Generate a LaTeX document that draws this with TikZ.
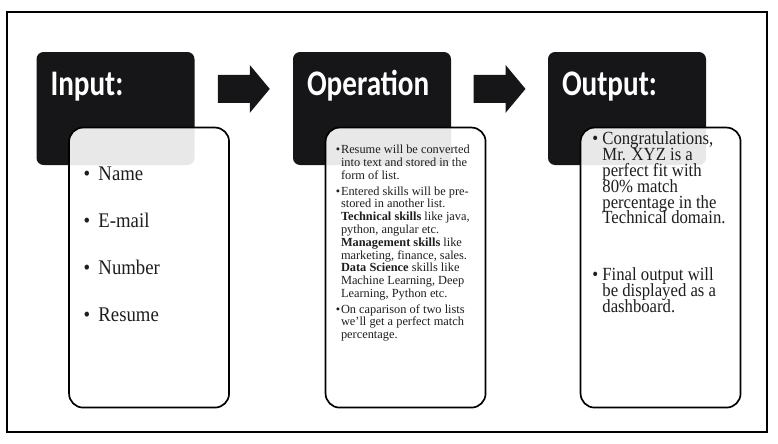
\documentclass[tikz,border=0pt]{standalone}
\usepackage{fontspec}
\setmainfont{Liberation Serif}
\newfontfamily\headfont[FakeStretch=0.81]{Carlito}
\newfontfamily\tallserif[FakeStretch=0.9]{Liberation Serif}
\usetikzlibrary{calc, positioning}
\definecolor{headblack}{RGB}{22,22,24}
\definecolor{bodyink}  {RGB}{30,30,30}
\newcommand{\bul}[1][6pt]{\llap{\textbullet\hspace{#1}}}

\begin{document}
\begin{tikzpicture}[
  head/.style={rectangle, rounded corners=5pt, minimum width=3.95cm,
    minimum height=2.825cm, fill=headblack, inner sep=0pt},
  card/.style={rectangle, rounded corners=10pt, minimum width=4.0cm,
    minimum height=7.0cm, fill=white, fill opacity=0.9, draw=black,
    line width=1.2pt, anchor=north west},
  htext/.style={anchor=base west, inner sep=0pt, text=white,
    font=\headfont\bfseries\fontsize{25.6}{30}\selectfont},
  ltext/.style={anchor=base west, inner sep=0pt, align=left, text=bodyink,
    execute at begin node={\lineskiplimit=-10pt}},
  fatarrow/.pic={\fill[headblack] (-0.65,0.35) -- ++(0.8,0) -- ++(0,0.25)
    -- ++(0.5,-0.6) -- ++(-0.5,-0.6) -- ++(0,0.25) -- ++(-0.8,0) -- cycle;},
]
\useasboundingbox (0,0) rectangle (19.45,-11.075);
%% Outer frame
\draw[line width=1.1pt] (0.175,-0.3) rectangle (19.175,-10.8);
%% Dark headers
\node[head] (H1) at (2.8875,-2.7125) {};
\node[head] (H2) at (9.3,-2.7125) {};
\node[head] (H3) at (15.675,-2.7125) {};
\node[htext] (L1) at ($(H1.north west)+(0.35,-1.1)$) {Input:};
\node[htext] (L2) at ($(H2.north west)+(0.35,-1.1)$) {Operation};
\node[htext] (L3) at ($(H3.north west)+(0.35,-1.1)$) {Output:};
%% Block arrows between headers
\coordinate (A1) at ($(H1.east)!0.5!(H2.west)+(0,0.49)$);
\coordinate (A2) at ($(H2.east)!0.5!(H3.west)+(0,0.49)$);
\pic at (A1) {fatarrow};
\pic at (A2) {fatarrow};
%% White cards
\node[card] (B1) at ($(H1.north west)+(0.8,-1.875)$) {};
\node[card] (B2) at ($(H2.north west)+(0.8,-1.875)$) {};
\node[card] (B3) at ($(H3.north west)+(0.8,-1.875)$) {};
%% Card texts (anchored on the last baseline)
\node[ltext, font=\tallserif\fontsize{14.8}{33.4}\selectfont]
  (T1) at ($(B1.north west)+(0.75,-4.875)$)
  {\bul Name\\ \bul E-mail\\ \bul Number\\ \bul Resume};
\node[ltext, font=\fontsize{8.8}{9.1}\selectfont]
  (T2) at ($(B2.north west)+(0.4,-5.3)$)
  {\bul[0.6pt]Resume will be converted\\
   into text and stored in the\\
   form of list.\\[2pt]
   \bul[0.6pt]Entered skills will be pre-\\
   stored in another list.\\
   \textbf{Technical skills} like java,\\
   python, angular etc.\\
   \textbf{Management skills} like\\
   marketing, finance, sales.\\
   \textbf{Data Science} skills like\\
   Machine Learning, Deep\\
   Learning, Python etc.\\[2pt]
   \bul[0.6pt]On caparison of two lists\\
   we'll get a perfect match\\
   percentage.};
\node[ltext, font=\tallserif\fontsize{13.2}{11.3}\selectfont]
  (T3) at ($(B3.north west)+(0.56,-4.64)$)
  {\bul[3pt]Congratulations,\\ Mr. XYZ is a\\ perfect fit with\\
   80\% match\\ percentage in the\\ Technical domain.\\[29pt]
   \bul[3pt]Final output will\\ be displayed as a\\ dashboard.};
\end{tikzpicture}
\end{document}
